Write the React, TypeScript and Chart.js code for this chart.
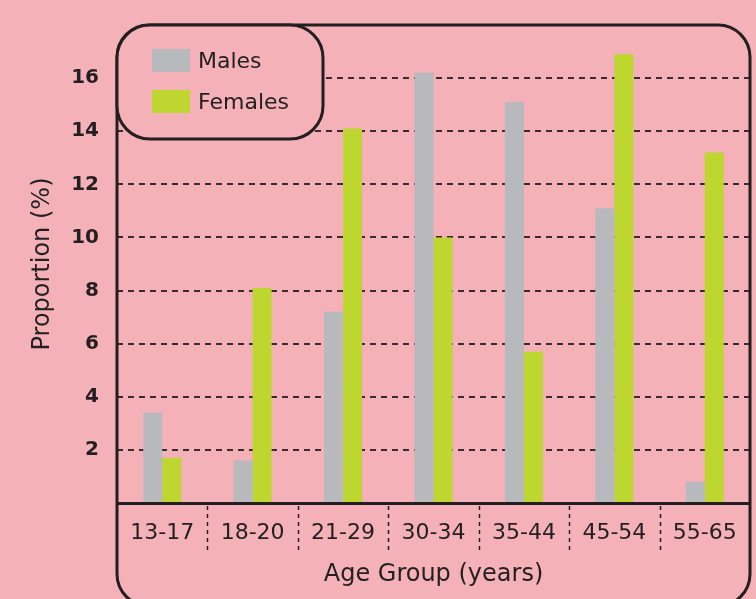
import React, { useEffect, useRef } from "react";
import { Chart, registerables } from "chart.js";

Chart.register(...registerables);

const categories = ["13-17", "18-20", "21-29", "30-34", "35-44", "45-54", "55-65"];
const males = [3.4, 1.6, 7.2, 16.2, 15.1, 11.1, 0.8];
const females = [1.7, 8.1, 14.1, 10.0, 5.7, 16.9, 13.2];
const yTicks = [2, 4, 6, 8, 10, 12, 14, 16];
const seriesNames = ["Males", "Females"];

const BG = "#F4B2B8";
const DARK = "#231F20";
const GREY = "#B8B9BD";
const GREEN = "#BED630";
const FONT = "'DejaVu Sans', sans-serif";

function roundRect(ctx: CanvasRenderingContext2D, x: number, y: number, w: number, h: number, r: number) {
  ctx.beginPath();
  ctx.moveTo(x + r, y);
  ctx.lineTo(x + w - r, y);
  ctx.arcTo(x + w, y, x + w, y + r, r);
  ctx.lineTo(x + w, y + h - r);
  ctx.arcTo(x + w, y + h, x + w - r, y + h, r);
  ctx.lineTo(x + r, y + h);
  ctx.arcTo(x, y + h, x, y + h - r, r);
  ctx.lineTo(x, y + r);
  ctx.arcTo(x, y, x + r, y, r);
  ctx.closePath();
}

const framePlugin = {
  id: "framePlugin",
  afterDraw(chart: any) {
    const ctx = chart.ctx as CanvasRenderingContext2D;
    const area = chart.chartArea;
    const xs = chart.scales.x;
    ctx.save();
    ctx.strokeStyle = DARK;
    ctx.lineWidth = 1.5;
    ctx.setLineDash([4, 4]);
    for (let i = 0; i < categories.length - 1; i++) {
      const a = xs.getPixelForValue(i);
      const b = xs.getPixelForValue(i + 1);
      const x = Math.round((a + b) / 2) + 0.5;
      ctx.beginPath();
      ctx.moveTo(x, area.bottom + 3);
      ctx.lineTo(x, area.bottom + 47);
      ctx.stroke();
    }
    ctx.setLineDash([]);
    ctx.lineWidth = 3;
    ctx.beginPath();
    ctx.moveTo(area.left, area.bottom + 0.5);
    ctx.lineTo(area.right, area.bottom + 0.5);
    ctx.stroke();
    roundRect(ctx, area.left, area.top, area.right - area.left, 606 - area.top, 32);
    ctx.stroke();
    const lx = area.left, ly = area.top, lw = 206, lh = 114;
    roundRect(ctx, lx, ly, lw, lh, 33);
    ctx.fillStyle = BG;
    ctx.fill();
    ctx.stroke();
    const datasets = chart.data.datasets;
    ctx.font = `22px ${FONT}`;
    ctx.textBaseline = "middle";
    ctx.textAlign = "left";
    datasets.forEach((ds: any, i: number) => {
      const sy = ly + 24 + i * 41;
      ctx.fillStyle = ds.backgroundColor;
      ctx.fillRect(152, sy, 38, 23);
      ctx.fillStyle = DARK;
      ctx.fillText(ds.label, 198, sy + 13);
    });
    ctx.restore();
  },
};

export default function App() {
  const ref = useRef<HTMLCanvasElement | null>(null);
  useEffect(() => {
    if (!ref.current) return;
    const chart = new Chart(ref.current, {
      type: "bar",
      data: {
        labels: categories,
        datasets: [
          { label: seriesNames[0], data: males, backgroundColor: GREY, barPercentage: 1, categoryPercentage: 0.42 },
          { label: seriesNames[1], data: females, backgroundColor: GREEN, barPercentage: 1, categoryPercentage: 0.42 },
        ],
      },
      options: {
        responsive: false,
        animation: false,
        devicePixelRatio: 1,
        layout: { padding: { left: 0, top: 25, right: 6, bottom: 0 } },
        plugins: { legend: { display: false }, tooltip: { enabled: false } },
        scales: {
          x: {
            grid: { display: false, drawTicks: false },
            border: { display: false },
            ticks: { color: DARK, font: { family: FONT, size: 22 }, padding: 17, maxRotation: 0, autoSkip: false },
            title: { display: true, text: "Age Group (years)", color: DARK, font: { family: FONT, size: 24 }, padding: { top: 0, bottom: 10 } },
            afterFit: (s: any) => { s.height = 96; s.paddingTop = 0; s.paddingBottom = 0; },
          },
          y: {
            min: 0,
            max: 18,
            afterBuildTicks: (s: any) => { s.ticks = yTicks.map((v) => ({ value: v })); },
            grid: {
              drawTicks: false,
              color: "#3a2c2e",
              lineWidth: 2,
            },
            border: { display: false, dash: [6, 5] },
            ticks: {
              color: DARK,
              font: { family: FONT, size: 20, weight: "bold" },
              padding: 18,
            },
            title: { display: true, text: "Proportion (%)", color: DARK, font: { family: FONT, size: 24 }, padding: { top: 28, bottom: 0 } },
            afterFit: (s: any) => { s.width = 117; s.paddingTop = 0; s.paddingBottom = 0; },
          },
        },
      },
      plugins: [framePlugin],
    } as any);
    return () => chart.destroy();
  }, []);
  return (
    <div style={{ position: "fixed", left: 0, top: 0, width: 756, height: 599, background: BG }}>
      <canvas ref={ref} width={756} height={599} style={{ display: "block" }} />
    </div>
  );
}
